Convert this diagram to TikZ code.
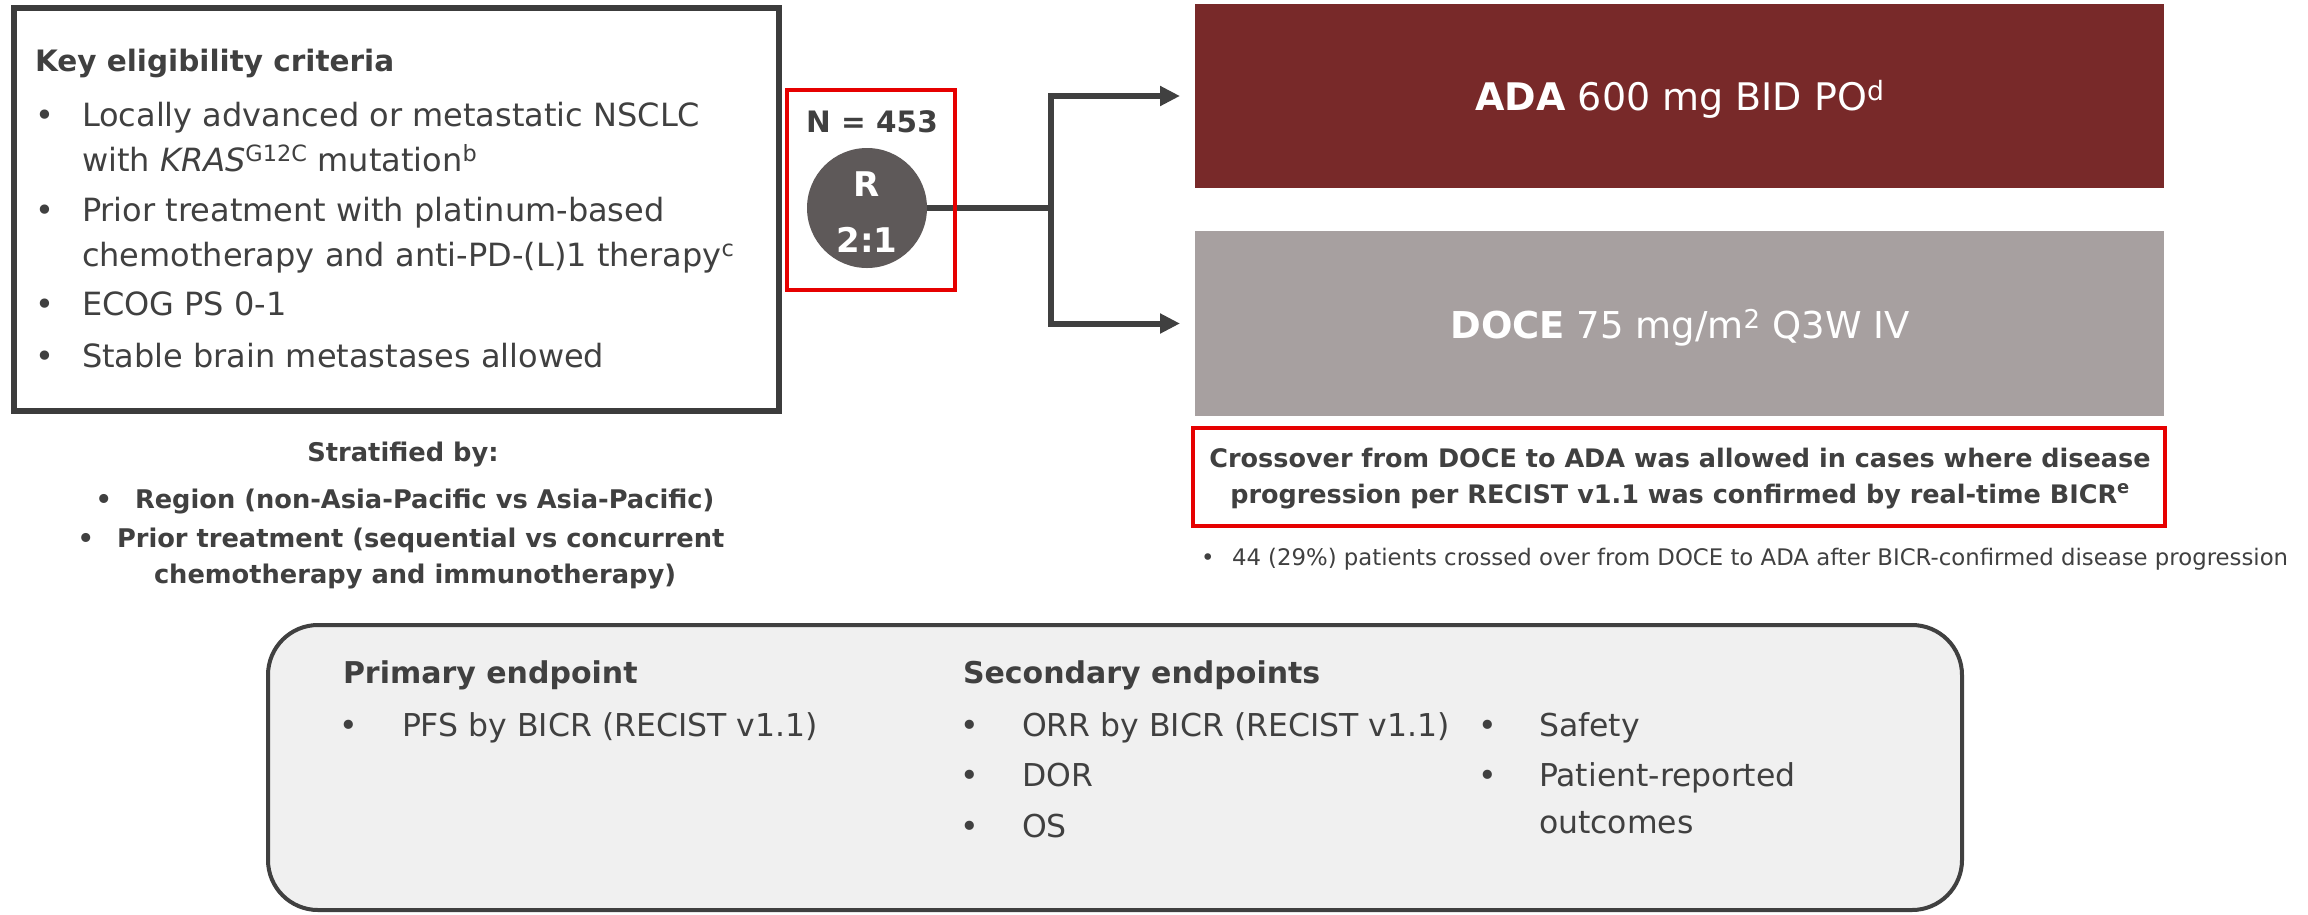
\documentclass[tikz,border=0pt]{standalone}
\usepackage{fontspec}
\setmainfont{DejaVu Sans}
\usetikzlibrary{arrows.meta}

\definecolor{ink}{HTML}{404040}
\definecolor{frame}{HTML}{3C3C3C}
\definecolor{alert}{HTML}{E60000}
\definecolor{adared}{HTML}{782929}
\definecolor{docegray}{HTML}{A7A0A0}
\definecolor{discgray}{HTML}{5E5959}
\definecolor{panel}{HTML}{F0F0F0}

\newcommand\fsz[1]{\fontsize{#1}{#1}\selectfont}

\tikzset{
  lw/.style={inner sep=0pt, outer sep=0pt, anchor=base west, text=ink},
  cw/.style={inner sep=0pt, outer sep=0pt, anchor=base, text=ink},
  boxshape/.style={inner sep=0pt, outer sep=0pt, anchor=north west},
  conn/.style={draw=ink, line width=6pt},
  arrowtip/.style={-{Triangle[length=20pt,width=19pt]}, shorten >=15pt},
}

\begin{document}
\begin{tikzpicture}[x=1pt,y=-1pt]
\useasboundingbox[fill=white] (0,0) rectangle (2308,914);

% ---------- eligibility panel ----------
\node[boxshape, draw=frame, line width=5.5pt, minimum width=765pt, minimum height=403pt] (elig) at (14,8) {};
\node[lw] (eligtitle) at (35,71) {\fsz{29.5}\bfseries Key eligibility criteria};
\node[lw] (eb1) at (35,126) {\fsz{32}•};
\node[lw] (e1a) at (82,126) {\fsz{32}Locally advanced or metastatic NSCLC};
\node[lw] (e1b) at (82,171) {\fsz{32}with \textit{KRAS}\textsuperscript{G12C} mutation\textsuperscript{b}};
\node[lw] (eb2) at (35,221) {\fsz{32}•};
\node[lw] (e2a) at (82,221) {\fsz{32}Prior treatment with platinum-based};
\node[lw] (e2b) at (82,266) {\fsz{32}chemotherapy and anti-PD-(L)1 therapy\textsuperscript{c}};
\node[lw] (eb3) at (35,315) {\fsz{32}•};
\node[lw] (e3) at (82,315) {\fsz{32}ECOG PS 0-1};
\node[lw] (eb4) at (35,367) {\fsz{32}•};
\node[lw] (e4) at (82,367) {\fsz{32}Stable brain metastases allowed};

% ---------- stratification ----------
\node[cw] (strattitle) at (403,461) {\fsz{25.7}\bfseries Stratified by:};
\node[lw] (sb1) at (95.5,508) {\fsz{25.7}\bfseries •};
\node[lw] (s1) at (135,508) {\fsz{25.7}\bfseries Region (non-Asia-Pacific vs Asia-Pacific)};
\node[lw] (sb2) at (77.5,547) {\fsz{25.7}\bfseries •};
\node[lw] (s2a) at (117,547) {\fsz{25.7}\bfseries Prior treatment (sequential vs concurrent};
\node[lw] (s2b) at (154,583) {\fsz{25.7}\bfseries chemotherapy and immunotherapy)};

% ---------- randomisation ----------
\node[cw] (ntotal) at (872,132) {\fsz{29.5}\bfseries N = 453};
\node[circle, fill=discgray, minimum size=120pt, inner sep=0pt, outer sep=0pt] (rand) at (867,208) {};
\node[cw, text=white] (randR) at (867,196) {\fsz{34}\bfseries R};
\node[cw, text=white] (randratio) at (867,252) {\fsz{34}\bfseries 2:1};

% ---------- treatment arms ----------
\node[boxshape, fill=adared, minimum width=969pt, minimum height=184pt] (ada) at (1195,4) {};
\node[cw, text=white] (adalbl) at (1680,110) {\fsz{38}\textbf{ADA} 600 mg BID PO\textsuperscript{d}};
\node[boxshape, fill=docegray, minimum width=969pt, minimum height=185pt] (doce) at (1195,231) {};
\node[cw, text=white] (docelbl) at (1680,338) {\fsz{37}\textbf{DOCE} 75 mg/m\textsuperscript{2} Q3W IV};

% ---------- connectors ----------
\coordinate (split) at (1051,208);
\draw[conn] (rand.east) -- (split);
\draw[conn, arrowtip] (split) |- (ada.west);
\draw[conn, arrowtip] (split) |- (doce.west);

\node[boxshape, draw=alert, line width=4pt, minimum width=168pt, minimum height=200pt] (nbox) at (787,90) {};

% ---------- crossover note ----------
\node[boxshape, draw=alert, line width=4pt, minimum width=972pt, minimum height=98pt] (cross) at (1193,428) {};
\node[cw] (cross1) at (1680,467) {\fsz{25.5}\bfseries Crossover from DOCE to ADA was allowed in cases where disease};
\node[cw] (cross2) at (1680,503) {\fsz{25.5}\bfseries progression per RECIST v1.1 was confirmed by real-time BICR\textsuperscript{e}};
\node[lw] (fb) at (1201,565) {\fsz{22.8}•};
\node[lw] (foot) at (1232,565) {\fsz{22.8}44 (29\%) patients crossed over from DOCE to ADA after BICR-confirmed disease progression};

% ---------- endpoints panel ----------
\node[boxshape, draw=ink, fill=panel, line width=4pt, rounded corners=50pt, minimum width=1694pt, minimum height=285pt] (ends) at (268,625) {};
\node[lw] (prim) at (343,683) {\fsz{30}\bfseries Primary endpoint};
\node[lw] (pb1) at (339,736) {\fsz{31.5}•};
\node[lw] (p1) at (402,736) {\fsz{31.5}PFS by BICR (RECIST v1.1)};

\node[lw] (sec) at (963,683) {\fsz{30}\bfseries Secondary endpoints};
\node[lw] (qb1) at (960,736) {\fsz{31.5}•};
\node[lw] (q1) at (1022,736) {\fsz{31.5}ORR by BICR (RECIST v1.1)};
\node[lw] (qb2) at (960,786) {\fsz{31.5}•};
\node[lw] (q2) at (1022,786) {\fsz{31.5}DOR};
\node[lw] (qb3) at (960,837) {\fsz{31.5}•};
\node[lw] (q3) at (1022,837) {\fsz{31.5}OS};

\node[lw] (rb1) at (1478,736) {\fsz{31.5}•};
\node[lw] (r1) at (1539,736) {\fsz{31.5}Safety};
\node[lw] (rb2) at (1478,786) {\fsz{31.5}•};
\node[lw] (r2a) at (1539,786) {\fsz{31.5}Patient-reported};
\node[lw] (r2b) at (1539,833) {\fsz{31.5}outcomes};
\end{tikzpicture}
\end{document}
